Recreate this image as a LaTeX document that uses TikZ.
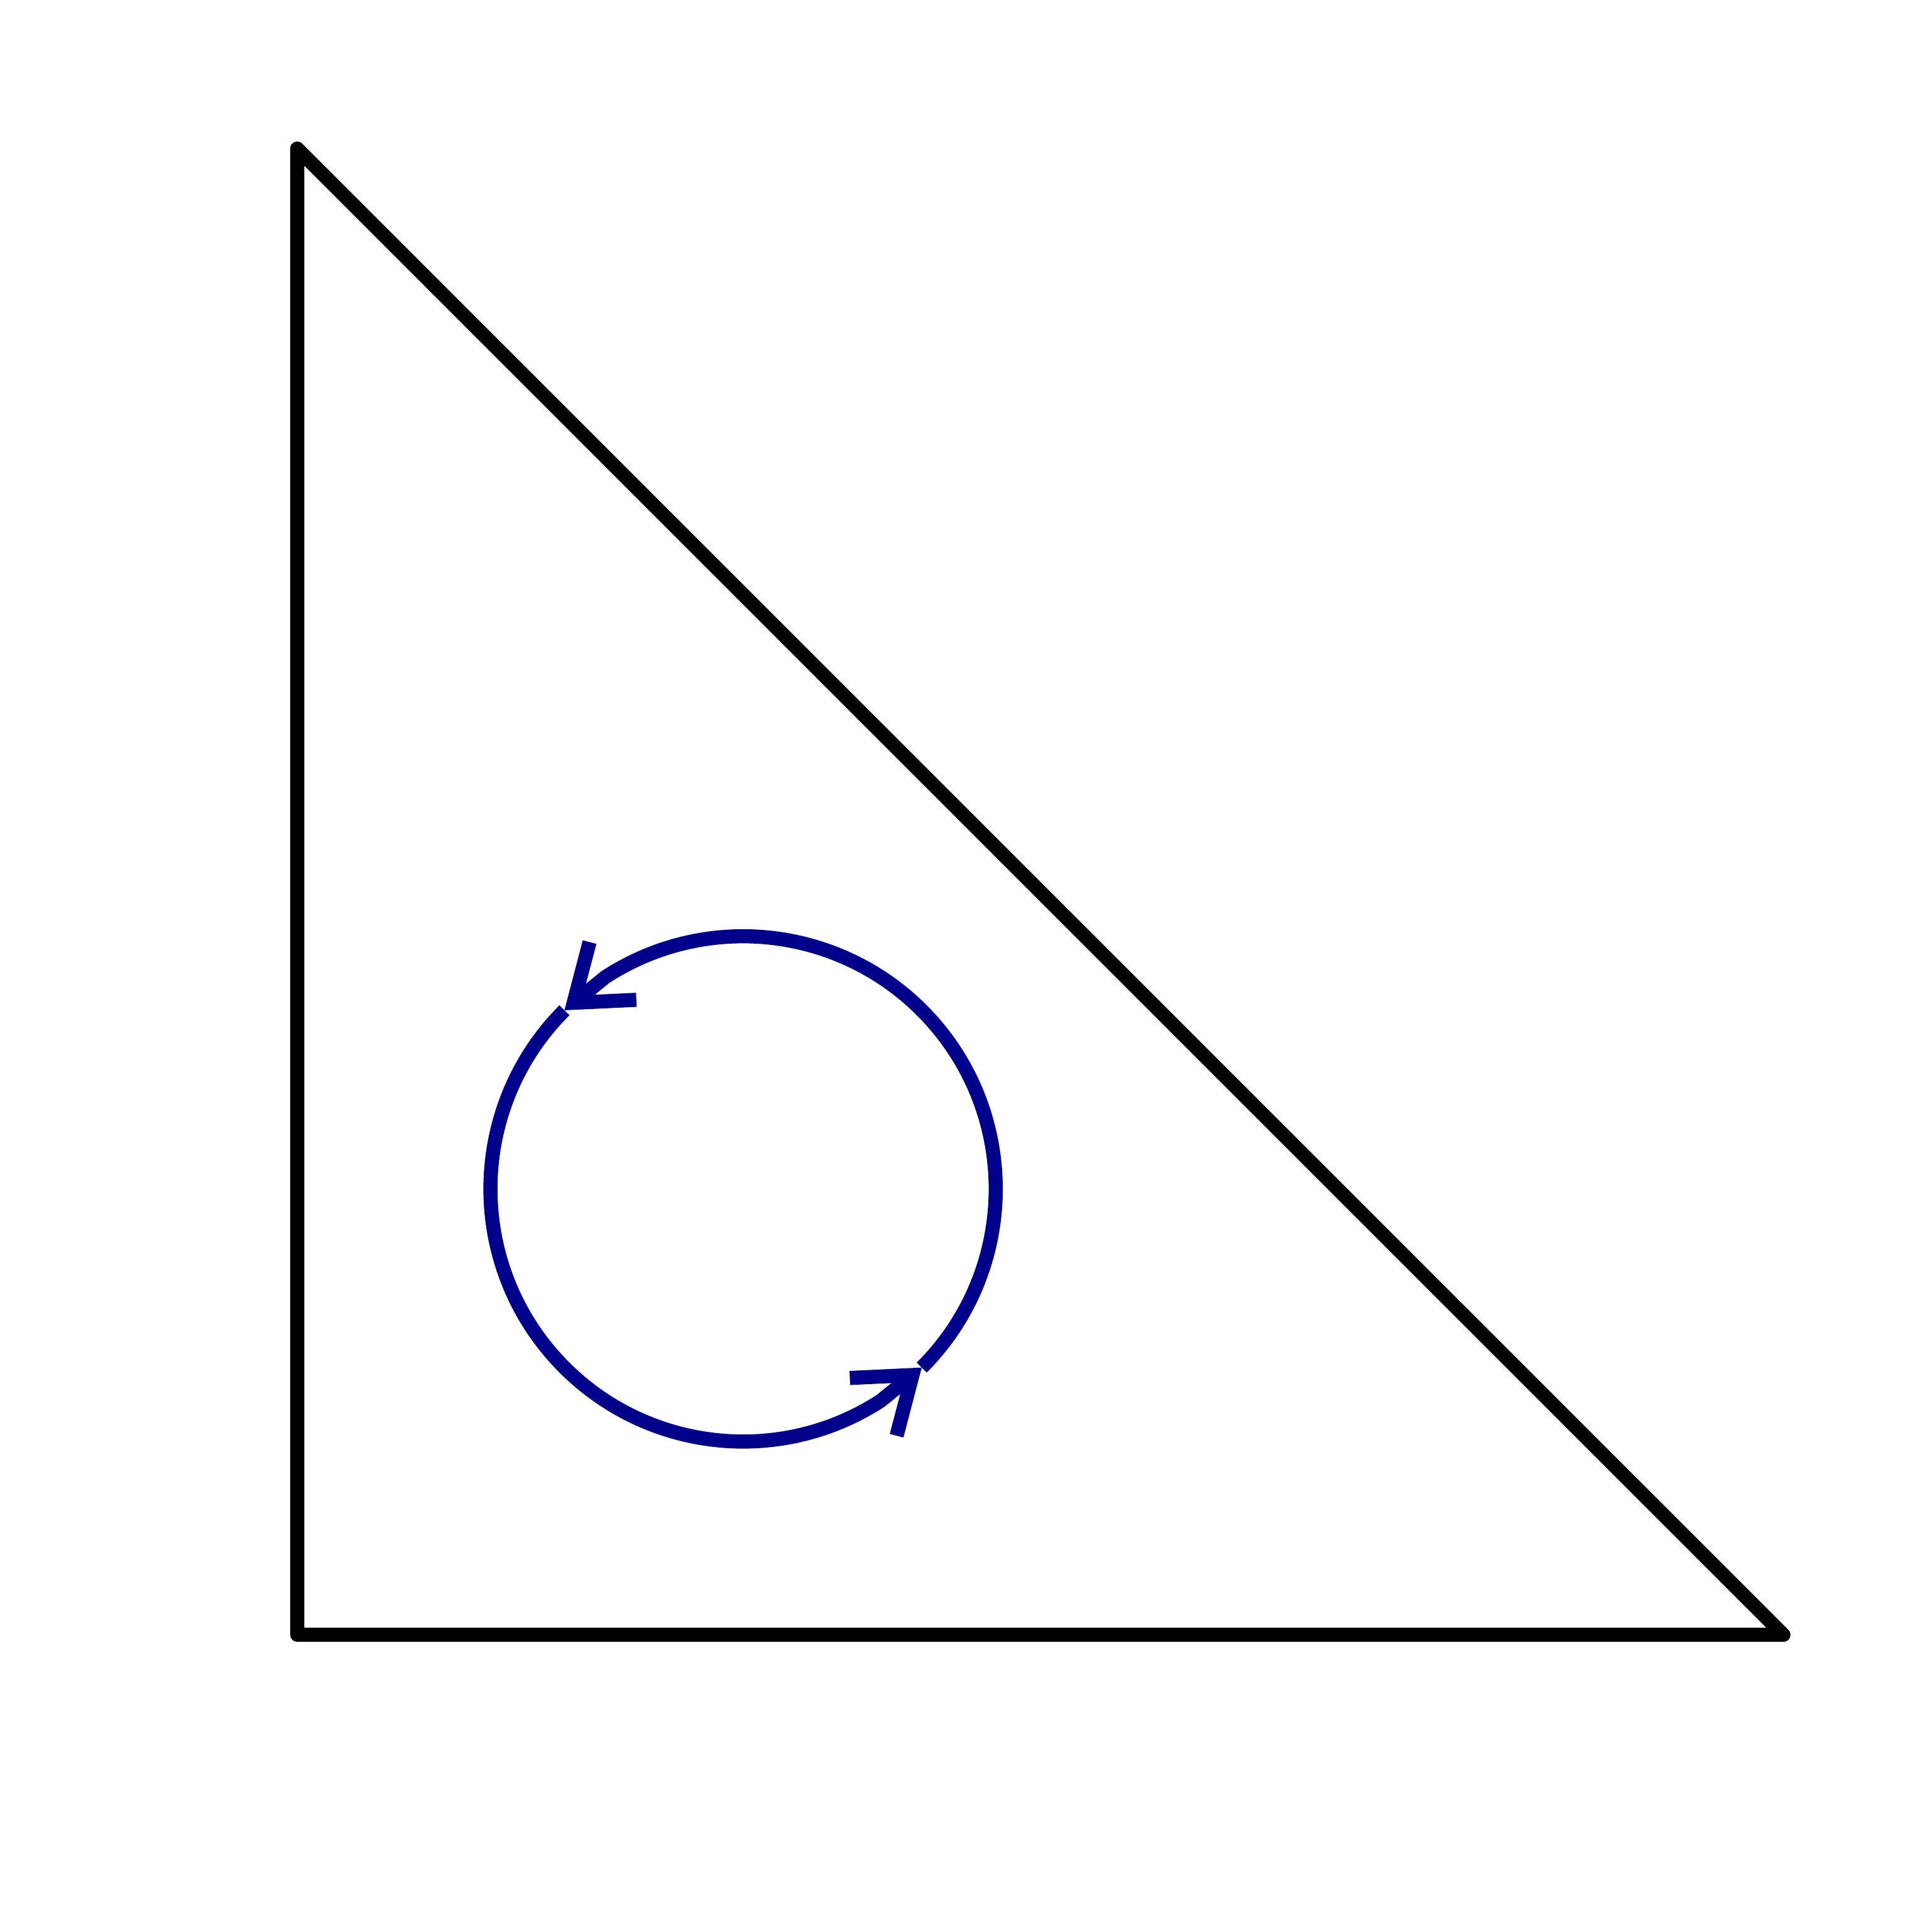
\documentclass[tikz,border=0pt]{standalone}
\usetikzlibrary{arrows.meta}
\definecolor{cloop}{HTML}{00008B}
\tikzset{
  every picture/.style={line width=2.7pt},
  leg/.style={line join=round, line cap=round},
  looptip/.style={cloop, -{Straight Barb[length=0.34cm, width=0.5cm, sharp]}},
}
\def\rc{1.7}
\begin{document}
\begin{tikzpicture}
  \path[use as bounding box] (-2,-2) rectangle (11,11);
  \draw[leg] (0,10) -- (0,0) -- (10,0) -- cycle;
  \coordinate (c) at (3,3);
  % two half loops round c, last bit straight so the tip leans in
  \draw[looptip] ([shift={(-45:\rc)}]c) arc (-45:123:\rc) -- ([shift={(135:\rc)}]c);
  \draw[looptip] ([shift={(135:\rc)}]c) arc (135:303:\rc) -- ([shift={(315:\rc)}]c);
\end{tikzpicture}
\end{document}
